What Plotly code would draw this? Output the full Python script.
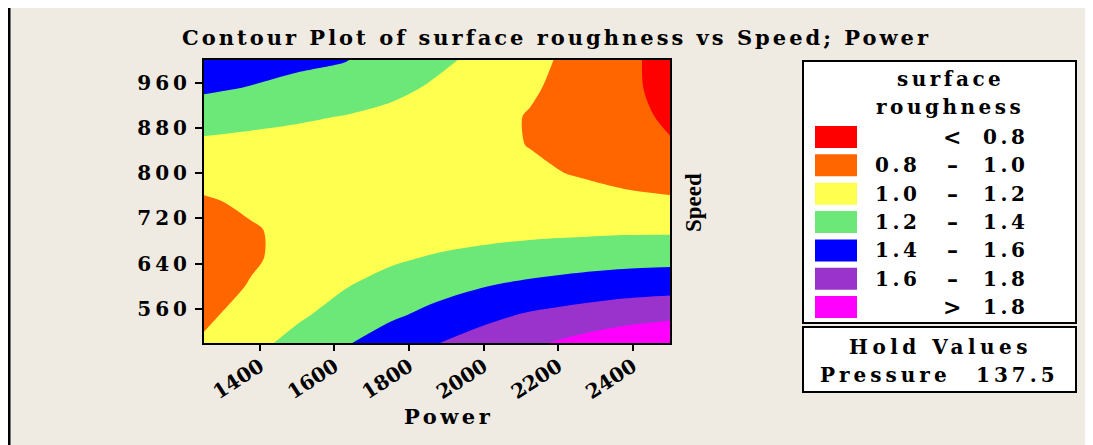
import plotly.graph_objects as go

# ---------------- data ----------------
power = [1250, 1375, 1500, 1625, 1750, 1875, 2000, 2125, 2250, 2375, 2500]
speed = [500, 550, 600, 650, 700, 750, 800, 850, 900, 950, 1000]
# surface roughness read from the contour bands (rows = speed, cols = power)
roughness = [
    [1.02, 1.14, 1.26, 1.38, 1.49, 1.595, 1.68, 1.77, 1.85, 1.92, 1.98],
    [0.97, 1.06, 1.17, 1.27, 1.37, 1.45, 1.55, 1.62, 1.67, 1.72, 1.75],
    [0.93, 1.01, 1.11, 1.19, 1.27, 1.34, 1.395, 1.44, 1.48, 1.51, 1.53],
    [0.92, 0.98, 1.05, 1.11, 1.17, 1.22, 1.26, 1.29, 1.31, 1.33, 1.34],
    [0.94, 0.985, 1.04, 1.07, 1.09, 1.11, 1.13, 1.15, 1.16, 1.17, 1.17],
    [0.98, 1.03, 1.06, 1.07, 1.075, 1.08, 1.08, 1.08, 1.07, 1.05, 1.03],
    [1.07, 1.09, 1.09, 1.08, 1.07, 1.06, 1.05, 1.03, 0.99, 0.94, 0.90],
    [1.16, 1.15, 1.13, 1.11, 1.09, 1.06, 1.04, 0.995, 0.92, 0.86, 0.81],
    [1.29, 1.25, 1.225, 1.195, 1.15, 1.10, 1.05, 0.99, 0.91, 0.84, 0.78],
    [1.43, 1.39, 1.35, 1.31, 1.25, 1.17, 1.09, 1.02, 0.94, 0.83, 0.76],
    [1.52, 1.49, 1.44, 1.41, 1.32, 1.24, 1.15, 1.05, 0.95, 0.84, 0.74],
]
level_start, level_end, level_step = 0.8, 1.8, 0.2
band_colors = ["#FF0000", "#FF6600", "#FFFF50", "#6BE878", "#0000FF", "#9933CC", "#FF00FF"]
band_low = ["", "0.8", "1.0", "1.2", "1.4", "1.6", ""]
band_sep = ["&lt;", "–", "–", "–", "–", "–", "&gt;"]
band_high = ["0.8", "1.0", "1.2", "1.4", "1.6", "1.8", "1.8"]
x_ticks = [1400, 1600, 1800, 2000, 2200, 2400]
y_ticks = [560, 640, 720, 800, 880, 960]
x_range = [1250, 2500]
y_range = [500, 1000]
title_text = "Contour Plot of surface roughness vs Speed; Power"
x_title = "Power"
y_title = "Speed"
legend_title = ["surface", "roughness"]
hold_title = "Hold Values"
hold_name = "Pressure"
hold_value = "137.5"

# ---------------- layout geometry ----------------
# the page body adds an 8px margin, so the figure is drawn 8px smaller and
# all reference pixel positions are shifted by that offset
OFF = 8
W, H = 1093 - OFF, 445 - OFF
ML, MR, MT, MB = 204 - OFF, 423, 60 - OFF, 102
PW = W - ML - MR
PH = H - MT - MB


def px(x):
    """reference pixel x -> paper coordinate"""
    return (x - OFF - ML) / PW


def py(y):
    """reference pixel y -> paper coordinate"""
    return (H - MB - (y - OFF)) / PH


def spaced(s, ls):
    return '<span style="letter-spacing:%.1fpx">%s</span>' % (ls, s)


BG = "#EFEBE2"
SERIF = "DejaVu Serif"

# step colorscale: one flat colour per band
n = len(band_colors)
cscale = []
for k, c in enumerate(band_colors):
    a = max(0.0, (k - 0.5) / (n - 1))
    b = min(1.0, (k + 0.5) / (n - 1))
    cscale.append([a, c])
    cscale.append([b, c])

fig = go.Figure()
fig.add_trace(go.Contour(
    x=power, y=speed, z=roughness,
    colorscale=cscale,
    showscale=False,
    autocontour=False,
    contours=dict(start=level_start, end=level_end, size=level_step,
                  coloring="fill", showlines=False),
    line=dict(width=0, smoothing=0.9),
    hoverinfo="x+y+z",
))

shapes = []
annotations = []

# outer frame (left edge)
shapes.append(dict(type="line", xref="paper", yref="paper",
                   x0=px(9), x1=px(9), y0=py(8), y1=py(445),
                   line=dict(color="#000000", width=3)))

# legend box
shapes.append(dict(type="rect", xref="paper", yref="paper",
                   x0=px(803), x1=px(1076), y0=py(61), y1=py(323),
                   line=dict(color="#000000", width=2), fillcolor="white"))
shapes.append(dict(type="rect", xref="paper", yref="paper",
                   x0=px(803), x1=px(1076), y0=py(327), y1=py(392),
                   line=dict(color="#000000", width=2), fillcolor="white"))

lf = dict(family=SERIF, size=20, color="black", weight="bold")
LS = 3.5


def ann(text, x, y, font, ls=LS, **kw):
    annotations.append(dict(text=spaced(text, ls), x=px(x), y=py(y), xref="paper", yref="paper",
                            showarrow=False, xanchor="center", yanchor="middle", font=font, **kw))


ann(legend_title[0], 950, 79, lf)
ann(legend_title[1], 950, 107, lf)

row0, dy = 137, 28.35
for k in range(n):
    yc = row0 + k * dy
    shapes.append(dict(type="rect", xref="paper", yref="paper",
                       x0=px(815), x1=px(857), y0=py(yc - 11), y1=py(yc + 11),
                       line=dict(width=0), fillcolor=band_colors[k]))
    if band_low[k]:
        ann(band_low[k], 897, yc, lf)
    ann(band_sep[k], 952, yc, dict(family=SERIF, size=22, color="black", weight="bold"), ls=0)
    ann(band_high[k], 1005, yc, lf)

ann(hold_title, 940, 347, lf, ls=4.5)
ann(hold_name, 885, 375, lf, ls=4.0)
ann(hold_value, 1017, 375, lf, ls=4.0)

# axis titles
ann(y_title, 693, 203, dict(family="Liberation Serif", size=23, color="black", weight="bold"),
    ls=0, textangle=-90)
ann(x_title, 448, 416, dict(family=SERIF, size=21, color="black", weight="bold"), ls=3.5)
# title
ann(title_text, 556, 37, dict(family=SERIF, size=21, color="black", weight="bold"), ls=3.0)

tickfont = dict(family=SERIF, size=20, color="black", weight="bold")
fig.update_layout(
    width=W, height=H,
    margin=dict(l=ML, r=MR, t=MT, b=MB, pad=0),
    paper_bgcolor=BG, plot_bgcolor="white",
    showlegend=False,
    shapes=shapes,
    annotations=annotations,
    xaxis=dict(range=x_range, tickvals=x_ticks, ticktext=[str(v) for v in x_ticks],
               tickangle=-33, ticks="outside", ticklen=6, tickwidth=2, tickcolor="black",
               ticklabelstandoff=-4,
               showline=True, linecolor="black", linewidth=2, mirror=True,
               showgrid=False, zeroline=False, tickfont=tickfont),
    yaxis=dict(range=y_range, tickvals=y_ticks, ticktext=[spaced(str(v), 4) for v in y_ticks],
               ticks="outside", ticklen=7, tickwidth=2, tickcolor="black",
               showline=True, linecolor="black", linewidth=2, mirror=True,
               showgrid=False, zeroline=False, tickfont=tickfont),
)

fig.write_html("out.html")
